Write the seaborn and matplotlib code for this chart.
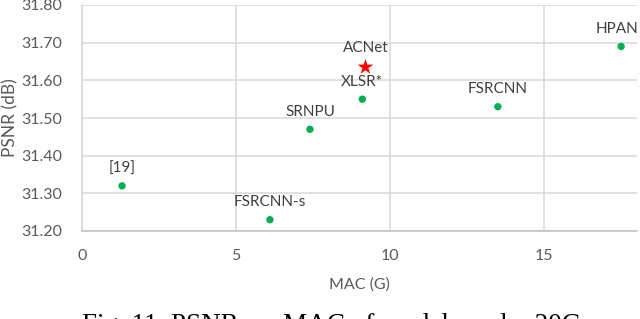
import matplotlib
matplotlib.use("Agg")
import matplotlib.pyplot as plt
import seaborn as sns
import pandas as pd

# data
models = ['[19]', 'FSRCNN-s', 'SRNPU', 'XLSR*', 'FSRCNN', 'HPAN']
mac_g = [1.3, 6.1, 7.4, 9.1, 13.5, 17.5]
psnr_db = [31.32, 31.23, 31.47, 31.55, 31.53, 31.69]

ours_name = ['ACNet']
ours_mac = [9.2]
ours_psnr = [31.635]

x_ticks = [0, 5, 10, 15]
y_ticks = [31.20, 31.30, 31.40, 31.50, 31.60, 31.70, 31.80]

caption = 'Fig. 11. PSNR vs. MAC of models under 20G'

sns.set_theme(style="white")
plt.rcParams['font.family'] = ['Lato', 'DejaVu Sans']

W, H = 640, 319
fig = plt.figure(figsize=(W / 100, H / 100), dpi=100)
ax = fig.add_axes([82 / W, 1 - 231 / H, (636.5 - 82) / W, (231 - 5) / H])

others = pd.DataFrame({'model': models, 'mac': mac_g, 'psnr': psnr_db})
ours = pd.DataFrame({'model': ours_name, 'mac': ours_mac, 'psnr': ours_psnr})

sns.scatterplot(data=others, x='mac', y='psnr', ax=ax, color='#00B050',
                s=28, edgecolor='none', zorder=3, clip_on=False)
sns.scatterplot(data=ours, x='mac', y='psnr', ax=ax, color='#FF0000',
                marker='*', s=140, edgecolor='none', zorder=3, clip_on=False)

# point labels sit above the markers; HPAN is nudged so it stays inside the figure
label_color = '#404040'
nudge_x = {'HPAN': -3}
for df, off in [(others, 7.5), (ours, 9)]:
    for _, r in df.iterrows():
        ax.annotate(r['model'], (r['mac'], r['psnr']), textcoords='offset points',
                    xytext=(nudge_x.get(r['model'], 0), off), ha='center',
                    va='bottom', fontsize=11, color=label_color,
                    annotation_clip=False)

ax.set_xlim(0, 18)
ax.set_ylim(31.20, 31.80)
ax.set_xticks(x_ticks)
ax.set_yticks(y_ticks)
ax.set_yticklabels([f'{v:.2f}' for v in y_ticks])
ax.tick_params(axis='both', length=0, labelsize=11.5, labelcolor='#595959')
ax.tick_params(axis='y', pad=14)
ax.tick_params(axis='x', pad=13)

ax.grid(True, color='#D9D9D9', linewidth=1.1)
ax.set_axisbelow(True)
for side in ['top', 'right']:
    ax.spines[side].set_visible(False)
ax.spines['left'].set_color('#D9D9D9')
ax.spines['left'].set_linewidth(1.1)
ax.spines['bottom'].set_color('#BFBFBF')
ax.spines['bottom'].set_linewidth(1.1)

ax.set_xlabel('MAC (G)', fontsize=11.5, color='#595959', labelpad=10)
ax.set_ylabel('PSNR (dB)', fontsize=12.5, color='#595959')
ax.yaxis.set_label_coords(-0.115, 0.5)

# caption of the figure, cut by the bottom edge as in the source
fig.text(82 / W, -13 / H, caption, fontsize=19.5, family='Liberation Serif',
         color='black', ha='left', va='baseline')

fig.savefig('out.png', dpi=100)
